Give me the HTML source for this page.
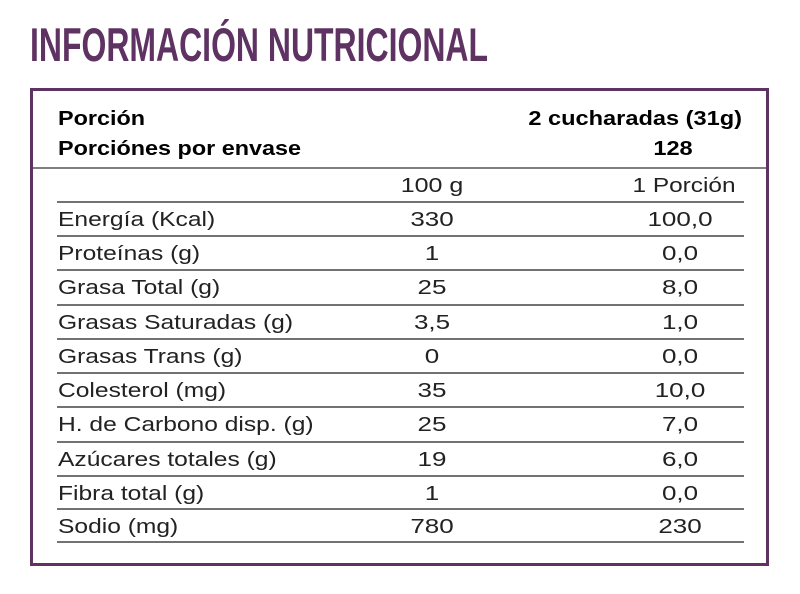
<!DOCTYPE html>
<html><head><meta charset="utf-8"><style>
html,body{margin:0;padding:0;background:#fff;}
svg{display:block;}
text{font-family:"Liberation Sans",sans-serif;}
</style></head><body>
<svg width="800" height="594" viewBox="0 0 800 594" xmlns="http://www.w3.org/2000/svg">
<text x="30" y="61" font-size="47" font-weight="bold" fill="#5e3262" textLength="458" lengthAdjust="spacingAndGlyphs">INFORMACIÓN NUTRICIONAL</text>
<rect x="31.5" y="89.5" width="736" height="475" fill="none" stroke="#5e3262" stroke-width="3"/>
<line x1="33" y1="168" x2="766" y2="168" stroke="#555" stroke-width="1.5"/>
<g font-weight="bold" font-size="20" fill="#000">
<text transform="matrix(1.17 0 0 1 58 0)" x="0" y="125">Porción</text>
<text transform="matrix(1.17 0 0 1 58 0)" x="0" y="155">Porciónes por envase</text>
<text transform="matrix(1.18 0 0 1 742 0)" x="0" y="125" text-anchor="end">2 cucharadas (31g)</text>
<text transform="matrix(1.18 0 0 1 673 0)" x="0" y="155" text-anchor="middle">128</text>
</g>
<g stroke="#444" stroke-width="1.5">
<line x1="57" x2="744" y1="202" y2="202"/>
<line x1="57" x2="744" y1="236" y2="236"/>
<line x1="57" x2="744" y1="270" y2="270"/>
<line x1="57" x2="744" y1="305" y2="305"/>
<line x1="57" x2="744" y1="339" y2="339"/>
<line x1="57" x2="744" y1="373" y2="373"/>
<line x1="57" x2="744" y1="407" y2="407"/>
<line x1="57" x2="744" y1="442" y2="442"/>
<line x1="57" x2="744" y1="476" y2="476"/>
<line x1="57" x2="744" y1="509" y2="509"/>
<line x1="57" x2="744" y1="542" y2="542"/>
</g>
<g font-size="20" fill="#222">
<g text-anchor="middle">
<text transform="matrix(1.25 0 0 1 432 0)" y="192">100 g</text>
<text transform="matrix(1.22 0 0 1 684 0)" y="192">1 Porción</text>
</g>
<g transform="matrix(1.23 0 0 1 58 0)">
<text y="226">Energía (Kcal)</text>
<text y="260">Proteínas (g)</text>
<text y="294">Grasa Total (g)</text>
<text y="329">Grasas Saturadas (g)</text>
<text y="363">Grasas Trans (g)</text>
<text y="397">Colesterol (mg)</text>
<text y="431">H. de Carbono disp. (g)</text>
<text y="466">Azúcares totales (g)</text>
<text y="500">Fibra total (g)</text>
<text y="533">Sodio (mg)</text>
</g>
<g transform="matrix(1.3 0 0 1 432 0)" text-anchor="middle">
<text y="226">330</text><text y="260">1</text><text y="294">25</text><text y="329">3,5</text><text y="363">0</text>
<text y="397">35</text><text y="431">25</text><text y="466">19</text><text y="500">1</text><text y="533">780</text>
</g>
<g transform="matrix(1.3 0 0 1 680 0)" text-anchor="middle">
<text y="226">100,0</text><text y="260">0,0</text><text y="294">8,0</text><text y="329">1,0</text><text y="363">0,0</text>
<text y="397">10,0</text><text y="431">7,0</text><text y="466">6,0</text><text y="500">0,0</text><text y="533">230</text>
</g>
</g>
</svg>
</body></html>
